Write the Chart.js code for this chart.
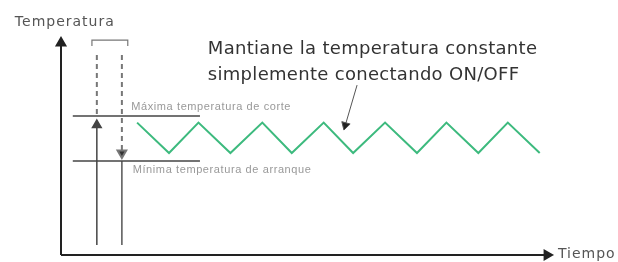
<!DOCTYPE html>
<html>
<head>
<meta charset="utf-8">
<script src="https://cdn.jsdelivr.net/npm/chart.js@4"></script>
<style>
  body { margin: 0; background: #fff; }
  canvas { display: block; }
</style>
</head>
<body>
<canvas id="myChart" width="618" height="262"></canvas>
<script>
// tiempo de cada vértice del ciclo ON/OFF
const cycleTimes = [15.5, 22, 28, 34.5, 41, 47, 53.5, 59.5, 66, 72.5, 78.5, 85, 91, 97.5];
// temperatura en cada vértice (alta / baja)
const cycleTemps = [61, 47, 61, 47, 61, 47, 61, 47, 61, 47, 61, 47, 61, 47];
const cutoffTemp = 64;     // Máxima temperatura de corte
const startTemp = 43.3;    // Mínima temperatura de arranque
const axisTimeMax = 99;
const axisTempMax = 97.7;

const labels = {
  yTitle: 'Temperatura',
  xTitle: 'Tiempo',
  cutoff: 'Máxima temperatura de corte',
  start: 'Mínima temperatura de arranque',
  note1: 'Mantiane la temperatura constante',
  note2: 'simplemente conectando ON/OFF'
};

function seg(points, color, width, opts) {
  return Object.assign({
    data: points.map(p => ({ x: p[0], y: p[1] })),
    showLine: true,
    borderColor: color,
    backgroundColor: color,
    borderWidth: width,
    pointRadius: 0,
    clip: false,
    tension: 0
  }, opts || {});
}

function arrowEnd(rotation) {
  return { pointRadius: [0, 5], pointStyle: 'triangle', pointRotation: rotation };
}

const datasets = [
  // ejes
  seg([[0, 0], [0, axisTempMax]], '#222', 2, arrowEnd(0)),
  seg([[0, 0], [axisTimeMax, 0]], '#222', 2, arrowEnd(90)),
  // líneas de consigna
  seg([[2.4, cutoffTemp], [28.3, cutoffTemp]], '#444', 1.5),
  seg([[2.4, startTemp], [28.3, startTemp]], '#444', 1.5),
  // flechas verticales
  seg([[7.3, 4.6], [7.3, 59.9]], '#444', 1.5, arrowEnd(0)),
  seg([[7.3, 92.2], [7.3, cutoffTemp]], '#777', 2, { borderDash: [5, 4] }),
  seg([[12.4, 92.2], [12.4, 47]], '#777', 2, Object.assign({ borderDash: [5, 4], backgroundColor: '#333' }, arrowEnd(180))),
  seg([[12.4, startTemp], [12.4, 4.6]], '#555', 1.5),
  // corchete superior
  seg([[6.3, 96.3], [6.3, 99], [13.6, 99], [13.6, 96.3]], '#777', 1.2),
  // ciclo de temperatura
  {
    data: cycleTimes.map((t, i) => ({ x: t, y: cycleTemps[i] })),
    showLine: true,
    borderColor: '#3dba7e',
    borderWidth: 2,
    pointRadius: 0,
    clip: false,
    tension: 0
  },
  // flecha de la nota
  seg([[60.3, 78.3], [57.9, 59.8]], '#555', 1, Object.assign(arrowEnd(196), { backgroundColor: '#222' }))
];

const textPlugin = {
  id: 'texts',
  afterDatasetsDraw(chart) {
    const ctx = chart.ctx;
    const xs = chart.scales.x, ys = chart.scales.y;
    const put = (txt, x, y, font, color, spacing, base) => {
      ctx.font = font;
      ctx.fillStyle = color;
      ctx.letterSpacing = spacing + 'px';
      ctx.textAlign = 'left';
      ctx.textBaseline = base || 'middle';
      ctx.fillText(txt, xs.getPixelForValue(x), ys.getPixelForValue(y));
    };
    ctx.save();
    put(labels.yTitle, -9.4, 107.4, '14px "DejaVu Sans"', '#555', 1);
    put(labels.xTitle, 101.2, 0.5, '14px "DejaVu Sans"', '#555', 1);
    put(labels.cutoff, 14.3, 68.2, '11px "Liberation Sans"', '#999', 0.6);
    put(labels.start, 14.6, 39.2, '11px "Liberation Sans"', '#999', 0.6);
    put(labels.note1, 29.9, 92.6, '18px "DejaVu Sans"', '#333', 0.3, 'alphabetic');
    put(labels.note2, 29.9, 80.6, '18px "DejaVu Sans"', '#333', 0.3, 'alphabetic');
    ctx.restore();
  }
};

new Chart(document.getElementById('myChart'), {
  type: 'scatter',
  data: { datasets: datasets },
  options: {
    responsive: false,
    animation: false,
    layout: { padding: { left: 61, right: 66, top: 38, bottom: 7 } },
    plugins: { legend: { display: false }, tooltip: { enabled: false } },
    scales: {
      x: { type: 'linear', min: 0, max: 100, display: false },
      y: { type: 'linear', min: 0, max: 100, display: false }
    }
  },
  plugins: [textPlugin]
});
</script>
</body>
</html>
